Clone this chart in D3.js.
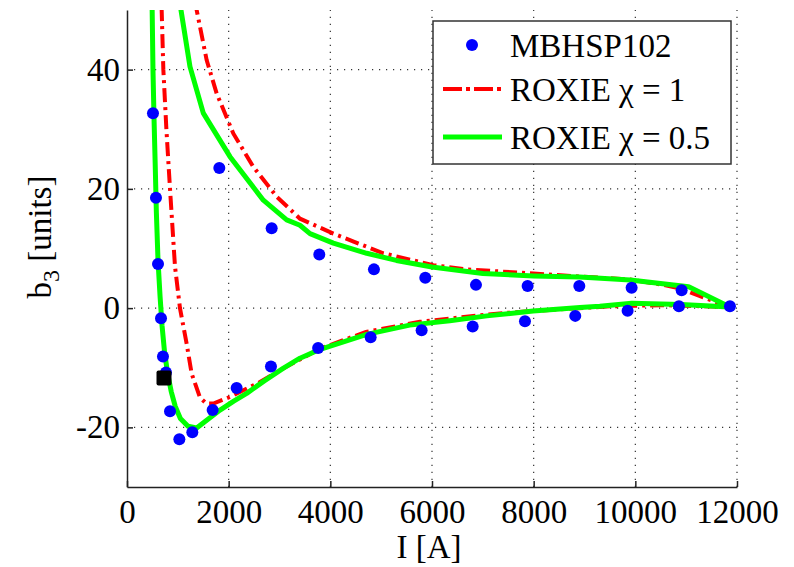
<!DOCTYPE html>
<html>
<head>
<meta charset="utf-8">
<script src="https://cdn.jsdelivr.net/npm/d3@7"></script>
<style>
  body { margin: 0; background: #fff; }
  svg text { font-family: "Times New Roman", Tinos, Times, serif; }
</style>
</head>
<body>
<div class="graph"></div>
<script>
"use strict";

// measured b3 vs current, MBHSP102
var measI  = [511, 570, 610, 669, 708, 767, 846, 1030, 1285, 1685, 2157, 2832, 3760, 4793, 5796, 6800, 7829, 8818, 9848, 10858, 11861,
              10911, 9927, 8898, 7881, 6865, 5868, 4858, 3783, 2846, 1816];
var measB3 = [32.7, 18.5, 7.4, -1.7, -8.1, -10.8, -17.3, -22, -20.8, -17.1, -13.4, -9.8, -6.7, -4.9, -3.7, -3.1, -2.2, -1.3, -0.45, 0.3, 0.3,
              3.0, 3.4, 3.7, 3.7, 3.9, 5.1, 6.5, 9.0, 13.4, 23.5];

// odd black marker near the low current end
var markI  = [728];
var markB3 = [-11.7];

// ROXIE chi = 1
var roxie1I  = [670, 682, 715, 775, 846, 944, 1042, 1174, 1272, 1436, 1560, 1700, 2026, 2616, 3141, 3796, 4700, 5763, 6944, 7468, 8500, 9500, 10500, 11860,
                11400, 10878, 10543, 9900, 8900, 7992, 6681, 6025, 5043, 4059, 3403, 2944, 2485, 2091, 1764, 1567, 1370, 1320];
var roxie1B3 = [55, 50, 40, 30, 20, 7, 0, -6, -11, -15, -16, -16, -14.9, -12.4, -9.8, -6.8, -4.0, -2.3, -1.2, -0.8, -0.2, 0.3, 0.5, 0.2,
                1.6, 3.3, 3.9, 4.8, 5.3, 5.8, 6.5, 7.2, 9.2, 12.5, 15.0, 18.7, 23.7, 29.3, 36, 41.6, 50, 55];

// ROXIE chi = 0.5
var roxie05I  = [485, 495, 511, 531, 555, 578, 610, 650, 690, 740, 800, 870, 950, 1050, 1200, 1370, 1600, 1830, 2100, 2354, 2700, 3070, 3403, 3800,
                 4716, 5560, 6350, 7080, 7990, 8910, 9300, 9930, 10900, 11860,
                 11050, 9900, 8900, 8000, 7000, 6000, 5300, 4716, 4059, 3600, 3403, 3141, 2682, 2026, 1501, 1239, 1062, 1030];
var roxie05B3 = [55, 50, 40, 32, 24, 16, 8, 2, -3, -7.5, -11, -14, -16.5, -18.5, -19.8, -20.1, -18.6, -17.1, -15.6, -14.3, -12.2, -10.1, -8.4, -6.9,
                 -4.4, -2.85, -2.1, -1.3, -0.5, 0.1, 0.3, 0.8, 0.6, 0.2,
                 3.6, 4.7, 5.2, 5.4, 5.8, 6.9, 8.0, 9.2, 10.9, 12.5, 13.9, 14.8, 18.1, 25.4, 32.7, 40.5, 50, 55];

var xTicks = [0, 2000, 4000, 6000, 8000, 10000, 12000];
var yTicks = [-20, 0, 20, 40];

var legendLabels = ['MBHSP102', 'ROXIE \u03c7 = 1', 'ROXIE \u03c7 = 0.5'];

var width = 794;
var height = 567;
var plotLeft = 127, plotRight = 737, plotTop = 10, plotBottom = 487;
var serif = '"Times New Roman", Tinos, Times, serif';

var x = d3.scaleLinear()
    .domain([0, 12000])
    .range([plotLeft, plotRight])

var y = d3.scaleLinear()
    .domain([-30, 50])
    .range([plotBottom, plotTop])

var svg = d3.select('.graph').append('svg')
    .attr('width', width)
    .attr('height', height)

svg.append('defs').append('clipPath')
    .attr('id', 'plotclip')
    .append('rect')
    .attr('x', plotLeft)
    .attr('y', plotTop)
    .attr('width', plotRight - plotLeft)
    .attr('height', plotBottom - plotTop)

// dotted grid
var grid = svg.append('g')
    .attr('stroke', '#333')
    .attr('stroke-width', 1.2)
    .attr('stroke-dasharray', '1.2,5.8')

grid.selectAll('.vgrid')
    .data(xTicks.filter(function(d) { return d > 0 }))
    .enter().append('line')
    .attr('x1', function(d) { return x(d) })
    .attr('x2', function(d) { return x(d) })
    .attr('y1', plotBottom)
    .attr('y2', plotTop)

grid.selectAll('.hgrid')
    .data(yTicks)
    .enter().append('line')
    .attr('x1', plotLeft)
    .attr('x2', plotRight)
    .attr('y1', function(d) { return y(d) })
    .attr('y2', function(d) { return y(d) })

// axes (plain hyphen for negatives, like the original)
var fmt = function(d) { return String(d) }

var xAxis = d3.axisBottom(x)
    .tickValues(xTicks)
    .tickFormat(fmt)
    .tickSizeInner(-6)
    .tickSizeOuter(0)
    .tickPadding(12.5)

var yAxis = d3.axisLeft(y)
    .tickValues(yTicks)
    .tickFormat(fmt)
    .tickSizeInner(-6)
    .tickSizeOuter(0)
    .tickPadding(7)

var axisX = svg.append('g')
    .attr('transform', 'translate(0,' + plotBottom + ')')
    .call(xAxis)

var axisY = svg.append('g')
    .attr('transform', 'translate(' + plotLeft + ',0)')
    .call(yAxis)

;[axisX, axisY].forEach(function(a) {
    a.attr('font-family', serif)
    a.selectAll('path, line').attr('stroke', '#222').attr('stroke-width', 1.5)
    a.selectAll('text')
        .attr('fill', '#000')
        .attr('font-size', '33px')
        .style('font-family', serif)
})

// curves
function pairs(xs, ys) {
    return xs.map(function(v, i) { return [v, ys[i]] })
}

var line = d3.line()
    .x(function(d) { return x(d[0]) })
    .y(function(d) { return y(d[1]) })

var curves = svg.append('g').attr('clip-path', 'url(#plotclip)')

curves.append('path')
    .datum(pairs(roxie1I, roxie1B3))
    .attr('d', line)
    .attr('fill', 'none')
    .attr('stroke', '#ff0000')
    .attr('stroke-width', 4)
    .attr('stroke-dasharray', '14,5,3,5')

curves.append('path')
    .datum(pairs(roxie05I, roxie05B3))
    .attr('d', line)
    .attr('fill', 'none')
    .attr('stroke', '#00ff00')
    .attr('stroke-width', 5)
    .attr('stroke-linejoin', 'round')

curves.selectAll('.meas')
    .data(pairs(measI, measB3))
    .enter().append('circle')
    .attr('cx', function(d) { return x(d[0]) })
    .attr('cy', function(d) { return y(d[1]) })
    .attr('r', 6)
    .attr('fill', '#0000ff')

curves.selectAll('.mark')
    .data(pairs(markI, markB3))
    .enter().append('rect')
    .attr('x', function(d) { return x(d[0]) - 7.5 })
    .attr('y', function(d) { return y(d[1]) - 7.5 })
    .attr('width', 15)
    .attr('height', 15)
    .attr('rx', 2)
    .attr('fill', '#000')

// axis titles
svg.append('text')
    .attr('x', 429)
    .attr('y', 558)
    .attr('text-anchor', 'middle')
    .attr('font-size', '33px')
    .text('I [A]')

var yl = svg.append('text')
    .attr('transform', 'translate(51,237) rotate(-90)')
    .attr('text-anchor', 'middle')
    .attr('font-size', '33px')
yl.append('tspan').text('b')
yl.append('tspan').attr('font-size', '24px').attr('dy', '0.35em').text('3')
yl.append('tspan').attr('dy', '-0.25em').text(' [units]')

// legend
var legend = svg.append('g')

legend.append('rect')
    .attr('x', 433)
    .attr('y', 21)
    .attr('width', 298)
    .attr('height', 143)
    .attr('fill', '#fff')
    .attr('stroke', '#333')
    .attr('stroke-width', 1.5)

var rowY = [45, 89, 137];

legendLabels.forEach(function(label, i) {
    var ry = rowY[i];
    if (i === 0) {
        legend.append('circle').attr('cx', 472).attr('cy', ry).attr('r', 6).attr('fill', '#0000ff')
    } else if (i === 1) {
        legend.append('line').attr('x1', 443).attr('x2', 502).attr('y1', ry).attr('y2', ry)
            .attr('stroke', '#ff0000').attr('stroke-width', 4).attr('stroke-dasharray', '19,4,4,4')
    } else {
        legend.append('line').attr('x1', 443).attr('x2', 502).attr('y1', ry).attr('y2', ry)
            .attr('stroke', '#00ff00').attr('stroke-width', 5)
    }
    legend.append('text')
        .attr('x', 510)
        .attr('y', ry + 12)
        .attr('font-size', '33px')
        .text(label)
})
</script>
</body>
</html>
